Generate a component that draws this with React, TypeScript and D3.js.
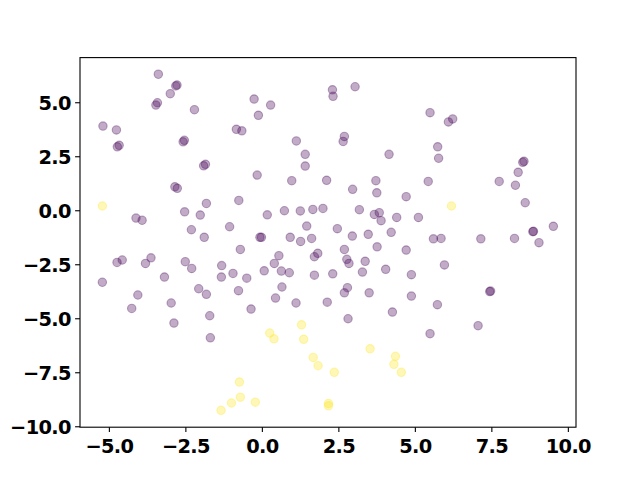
import { useRef, useEffect } from "react";
import * as d3 from "d3";

// purple cluster (label 0)
const purplePts: [number, number][] = [
  [-3.40, 6.32], [-2.79, 5.82], [-2.83, 5.78], [-3.01, 5.42], [-3.43, 5.0], [-3.48, 4.89],
  [-2.22, 4.68], [-5.21, 3.92], [-4.77, 3.74], [-4.68, 3.03], [-4.74, 2.96], [-0.85, 3.77],
  [-0.67, 3.70], [-2.55, 3.26], [-2.59, 3.19], [-1.86, 2.15], [-1.92, 2.08], [-2.86, 1.11],
  [-2.78, 1.04], [-1.83, 0.34], [-0.77, 0.48], [-2.54, -0.05], [-2.03, -0.20], [-4.13, -0.34],
  [-3.93, -0.44], [-2.32, -0.88], [-1.07, -0.74], [-1.90, -1.23],
  [2.29, 5.60], [2.31, 5.30], [3.03, 5.74], [-0.27, 5.17], [0.27, 4.89], [-0.13, 4.42],
  [1.11, 3.23], [2.68, 3.44], [2.64, 3.21], [1.40, 2.61], [1.40, 2.07], [4.14, 2.61],
  [-0.17, 1.65], [0.96, 1.39], [2.10, 1.41], [3.71, 1.39], [2.95, 0.99], [3.74, 0.83],
  [4.70, 0.65], [0.16, -0.19], [0.72, 0.0], [1.24, -0.01], [1.65, 0.06], [1.98, 0.11],
  [3.17, 0.05], [3.66, -0.17], [3.82, -0.09], [3.88, -0.46], [4.39, -0.31], [1.45, -0.71],
  [2.45, -0.83], [4.21, -1.0], [-0.08, -1.23], [-0.03, -1.23], [0.91, -1.23], [1.25, -1.42],
  [1.61, -1.28], [2.94, -1.17], [3.46, -1.09],
  [5.48, 4.54], [6.22, 4.25], [6.08, 4.11], [5.73, 2.96], [5.76, 2.43], [8.55, 2.29],
  [8.51, 2.24], [8.36, 1.78], [5.42, 1.36], [7.74, 1.36], [8.27, 1.18], [8.59, 0.37],
  [5.10, -0.31], [8.86, -0.95], [8.84, -0.97], [9.51, -0.72], [5.59, -1.30], [5.84, -1.28],
  [7.14, -1.30], [8.24, -1.28], [9.04, -1.48],
  [-0.72, -1.79], [-4.75, -2.39], [-4.58, -2.28], [-3.82, -2.44], [-3.64, -2.18], [-5.23, -3.31],
  [-3.20, -3.07], [-2.52, -2.36], [-2.31, -2.67], [-1.33, -2.54], [-1.34, -3.07], [-0.96, -2.90],
  [-2.08, -3.61], [-1.83, -3.87], [-0.78, -3.70], [-4.07, -3.90], [-4.27, -4.52], [-2.98, -4.27],
  [-2.89, -5.20], [-1.72, -4.86], [-1.70, -5.88],
  [3.75, -1.67], [4.70, -1.82], [0.54, -2.08], [0.39, -2.44], [0.06, -2.78], [0.62, -2.79],
  [0.88, -2.87], [-0.51, -3.12], [1.81, -1.97], [1.70, -2.13], [2.68, -1.79], [2.76, -2.25],
  [2.83, -2.44], [3.36, -2.34], [3.27, -2.84], [4.03, -2.71], [4.87, -2.96], [1.70, -2.98],
  [2.30, -2.92], [0.64, -3.53], [0.43, -4.04], [1.10, -4.27], [2.12, -4.23], [2.78, -3.56],
  [2.68, -3.80], [3.49, -3.80], [-0.37, -4.55], [2.80, -5.0], [4.25, -4.69], [4.87, -3.95],
  [5.95, -2.51], [5.72, -4.35], [7.46, -3.72], [7.43, -3.74], [7.05, -5.32], [5.48, -5.69],
];

// yellow cluster (label 1)
const yellowPts: [number, number][] = [
  [-5.23, 0.22], [6.18, 0.22],
  [-0.75, -7.93], [-0.72, -8.63], [-1.01, -8.90], [-1.35, -9.24], [-0.23, -8.86],
  [1.28, -5.28], [0.24, -5.66], [0.38, -5.93], [1.35, -5.95], [3.52, -6.39], [1.66, -6.79],
  [1.82, -7.17], [2.35, -7.48], [4.35, -6.74], [4.30, -7.11], [4.54, -7.48],
  [2.16, -8.92], [2.16, -9.03],
];

const xTicks = [-5, -2.5, 0, 2.5, 5, 7.5, 10];
const yTicks = [-10, -7.5, -5, -2.5, 0, 2.5, 5];

export default function App() {
  const ref = useRef<SVGSVGElement | null>(null);

  useEffect(() => {
    if (!ref.current) return;
    const svg = d3.select(ref.current);
    svg.selectAll("*").remove();

    const W = 640, H = 480;
    const left = 80, right = 576, top = 57.6, bottom = 427.2;

    const x = d3.scaleLinear().domain([-5.96, 10.25]).range([left, right]);
    const y = d3.scaleLinear().domain([-10.02, 7.09]).range([bottom, top]);

    svg.append("rect").attr("width", W).attr("height", H).attr("fill", "#fff");

    const pts = svg.append("g");
    const draw = (data: [number, number][], color: string) => {
      pts.selectAll(null)
        .data(data)
        .enter()
        .append("circle")
        .attr("cx", d => x(d[0]))
        .attr("cy", d => y(d[1]))
        .attr("r", 4.2)
        .attr("fill", color)
        .attr("fill-opacity", 0.33)
        .attr("stroke", color)
        .attr("stroke-opacity", 0.33)
        .attr("stroke-width", 1.1);
    };
    draw(purplePts, "#440154");
    draw(yellowPts, "#fde725");

    // frame
    svg.append("rect")
      .attr("x", left).attr("y", top)
      .attr("width", right - left).attr("height", bottom - top)
      .attr("fill", "none").attr("stroke", "#000").attr("stroke-width", 1.1);

    const fmt = d3.format(".1f");
    const font = "'DejaVu Sans', sans-serif";

    const label = (sel: any) =>
      sel.attr("font-family", font)
        .attr("font-weight", 700)
        .attr("font-size", 19.4)
        .attr("letter-spacing", -0.7)
        .attr("fill", "#000");

    const gx = svg.append("g");
    xTicks.forEach(t => {
      gx.append("line")
        .attr("x1", x(t)).attr("x2", x(t))
        .attr("y1", bottom).attr("y2", bottom + 4.9)
        .attr("stroke", "#000").attr("stroke-width", 1.1);
      gx.append("text")
        .attr("x", x(t)).attr("y", bottom + 26)
        .attr("text-anchor", "middle")
        .call(label)
        .text(fmt(t));
    });

    const gy = svg.append("g");
    yTicks.forEach(t => {
      gy.append("line")
        .attr("x1", left - 4.9).attr("x2", left)
        .attr("y1", y(t)).attr("y2", y(t))
        .attr("stroke", "#000").attr("stroke-width", 1.1);
      gy.append("text")
        .attr("x", left - 9.3).attr("y", y(t) + 7.2)
        .attr("text-anchor", "end")
        .call(label)
        .text(fmt(t));
    });
  }, []);

  return (
    <svg ref={ref} width={640} height={480}
      style={{ position: "absolute", left: 0, top: 0, display: "block" }} />
  );
}
